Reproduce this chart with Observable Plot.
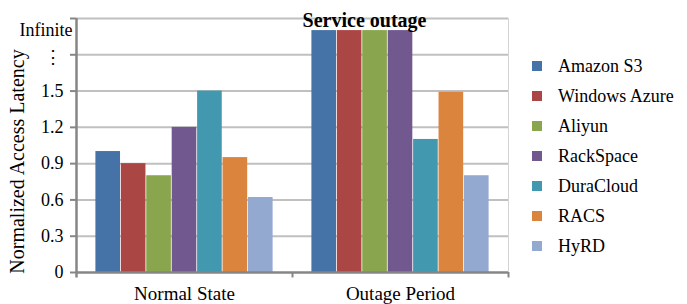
<!DOCTYPE html>
<html>
<head>
<meta charset="utf-8">
<script src="https://cdn.jsdelivr.net/npm/d3@7"></script>
<script src="https://cdn.jsdelivr.net/npm/@observablehq/plot@0.6"></script>
<style>
  html, body { margin: 0; padding: 0; background: #fff; }
  #wrap { position: relative; width: 687px; height: 304px; font-family: "Liberation Serif", "Times New Roman", serif; }
  #wrap svg, #wrap svg text { font-family: "Liberation Serif", "Times New Roman", serif !important; }
  #legend { position: absolute; left: 532px; top: 0; }
  .item { position: absolute; left: 0; white-space: nowrap; font-size: 18px; line-height: 20px; color: #000; }
  .sw { position: absolute; left: 0; top: 5px; width: 10px; height: 10px; }
  .lab { position: absolute; left: 26px; top: 0; }
</style>
</head>
<body>
<div id="wrap"><div id="legend"></div></div>
<script>
// ---- data ----
const groups = ["Normal State", "Outage Period"];
const series = ["Amazon S3", "Windows Azure", "Aliyun", "RackSpace", "DuraCloud", "RACS", "HyRD"];
const colors = ["#4572A7", "#AA4643", "#89A54E", "#71588F", "#4198AF", "#DB843D", "#93A9CF"];
const normalValues = [1.0, 0.9, 0.8, 1.2, 1.5, 0.95, 0.62];
const outageValues = [2.0, 2.0, 2.0, 2.0, 1.1, 1.49, 0.8]; // 2.0 = drawn as "Infinite"
const yTickValues = [0, 0.3, 0.6, 0.9, 1.2, 1.5];
const yTickLabels = ["0", "0.3", "0.6", "0.9", "1.2", "1.5"];
const yBreakValue = 1.8;   // "⋮"
const yTopValue = 2.1;     // "Infinite"
const yLabel = "Normalized Access Latency";
const annotation = "Service outage";

// ---- table ----
const rows = [];
groups.forEach((g, gi) => {
  const vals = gi === 0 ? normalValues : outageValues;
  series.forEach((s, si) => rows.push({group: g, series: s, value: vals[si]}));
});

const W = 687, H = 304, mL = 76, mR = 179, mT = 18, mB = 32;
const facetW = (W - mL - mR) / groups.length;
const padOuter = 0.747;
const step = facetW / (series.length + 2 * padOuter);
const edge = step * padOuter;
// rules on a band scale sit at the band centre; shift to the facet edges
const toLeftEdge = -(edge + step / 2);
const toRightEdge = edge + step / 2;
const axisGray = "#868686", gridGray = "#c0c0c0";
const serif = "'Liberation Serif', 'Times New Roman', serif";

const gridValues = [...yTickValues.slice(1), yBreakValue, yTopValue];

const plot = Plot.plot({
  width: W, height: H,
  marginLeft: mL, marginRight: mR, marginTop: mT, marginBottom: mB,
  style: `font-family: ${serif}; font-size: 18px; background: #fff; color: #000;`,
  fx: {domain: groups, padding: 0, round: false, axis: null},
  x: {domain: series, paddingInner: 0, paddingOuter: padOuter, round: false, axis: null},
  y: {domain: [0, yTopValue], axis: null},
  color: {domain: series, range: colors},
  marks: [
    Plot.ruleY(gridValues, {stroke: gridGray, strokeWidth: 2}),
    // right frame line
    Plot.ruleX([{g: groups[1], s: series[series.length - 1]}], {fx: "g", x: "s", dx: toRightEdge, y1: 0, y2: yTopValue, stroke: "#d4d4d4", strokeWidth: 1}),
    Plot.barY(rows, {fx: "group", x: "series", y: "value", fill: "series", insetLeft: 0.4, insetRight: 0.4}),
    // axes lines
    Plot.ruleY([0], {stroke: axisGray, strokeWidth: 2.5}),
    Plot.ruleX([{g: groups[0], s: series[0]}], {fx: "g", x: "s", dx: toLeftEdge, y1: -0.045, y2: yTopValue, stroke: axisGray, strokeWidth: 2.5}),
    Plot.ruleX([{g: groups[1], s: series[0]}], {fx: "g", x: "s", dx: toLeftEdge, y1: -0.045, y2: 0, stroke: axisGray, strokeWidth: 2}),
    Plot.ruleX([{g: groups[1], s: series[series.length - 1]}], {fx: "g", x: "s", dx: toRightEdge, y1: -0.045, y2: 0, stroke: axisGray, strokeWidth: 2}),
    Plot.axisY({ticks: [...yTickValues, yBreakValue, yTopValue], tickFormat: (d) => { const i = yTickValues.indexOf(d); return i >= 0 ? yTickLabels[i] : ""; }, tickSize: 6, tickPadding: 7, stroke: axisGray, strokeWidth: 2, fontSize: 18, fontFamily: serif, label: null}),
    Plot.axisY({ticks: [yBreakValue], tickFormat: () => "⋮", tickSize: 0, tickPadding: 24, textAnchor: "middle", fontSize: 18, dy: 2, label: null}),
    Plot.axisY({ticks: [yTopValue], tickFormat: () => "Infinite", tickSize: 0, tickPadding: 4, fontSize: 18, fontFamily: serif, dy: 12, label: null}),
    Plot.axisFx({anchor: "bottom", tickSize: 0, tickPadding: 14, fontSize: 19, fontFamily: serif, label: null}),
    Plot.text([{g: groups[0], t: yLabel}], {fx: "g", text: "t", frameAnchor: "left", textAnchor: "middle", lineAnchor: "middle", rotate: -90, dx: -59, dy: 16, fontSize: 20, fontFamily: serif}),
    Plot.text([{g: groups[1], t: annotation}], {fx: "g", text: "t", frameAnchor: "top", lineAnchor: "middle", dx: -36, dy: 2, fontSize: 20, fontWeight: "bold", fontFamily: serif})
  ]
});
document.getElementById("wrap").prepend(plot);

// legend
const leg = document.getElementById("legend");
series.forEach((s, i) => {
  const it = document.createElement("div");
  it.className = "item";
  it.style.top = (55.5 + 30 * i) + "px";
  it.innerHTML = `<span class="sw" style="background:${colors[i]}"></span><span class="lab">${s}</span>`;
  leg.appendChild(it);
});
</script>
</body>
</html>
